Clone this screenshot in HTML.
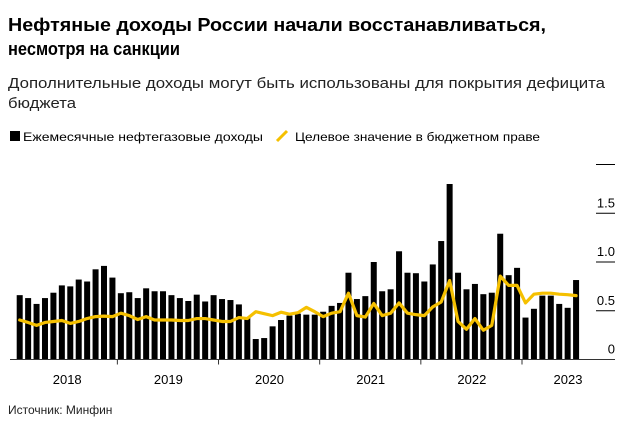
<!DOCTYPE html>
<html><head><meta charset="utf-8"><style>
html,body{margin:0;padding:0;background:#fff;}
svg{display:block;font-family:"Liberation Sans",sans-serif;}
</style></head><body>
<svg id="chart" width="631" height="430" viewBox="0 0 631 430" xmlns="http://www.w3.org/2000/svg">
<text x="8" y="31" font-size="18" font-weight="bold" textLength="538" lengthAdjust="spacingAndGlyphs">Нефтяные доходы России начали восстанавливаться,</text>
<text x="8" y="55" font-size="18" font-weight="bold" textLength="172" lengthAdjust="spacingAndGlyphs">несмотря на санкции</text>
<text x="8" y="88" font-size="15" fill="#222" textLength="597" lengthAdjust="spacingAndGlyphs">Дополнительные доходы могут быть использованы для покрытия дефицита</text>
<text x="8" y="108" font-size="15" fill="#222" textLength="68" lengthAdjust="spacingAndGlyphs">бюджета</text>
<g>
<rect x="10" y="131" width="10" height="10" fill="#000"/>
<text x="23" y="141" font-size="12" textLength="240" lengthAdjust="spacingAndGlyphs">Ежемесячные нефтегазовые доходы</text>
<line x1="277" y1="141" x2="287" y2="131" stroke="#f5c000" stroke-width="3"/>
<text x="295" y="141" font-size="12" textLength="245" lengthAdjust="spacingAndGlyphs">Целевое значение в бюджетном праве</text>
</g>
<g id="grid"></g><g id="bars"></g><g id="line"></g><g id="axis"></g>
<text x="8" y="414" font-size="12" fill="#222">Источник: Минфин</text>
</svg>
<script>
const revenue=[0.66,0.63,0.57,0.63,0.685,0.76,0.75,0.82,0.80,0.925,0.96,0.84,
0.68,0.69,0.63,0.73,0.70,0.70,0.66,0.63,0.60,0.665,0.595,0.66,
0.62,0.61,0.565,0.435,0.21,0.22,0.34,0.405,0.45,0.47,0.46,0.46,
0.49,0.55,0.58,0.89,0.62,0.65,1.0,0.70,0.72,1.11,0.89,0.885,
0.80,0.975,1.215,1.80,0.89,0.72,0.775,0.67,0.685,1.29,0.865,0.94,
0.43,0.52,0.655,0.655,0.57,0.53,0.815];
const target=[0.405,0.38,0.35,0.38,0.39,0.40,0.37,0.39,0.42,0.44,0.445,0.44,
0.475,0.45,0.41,0.44,0.405,0.405,0.405,0.40,0.40,0.42,0.42,0.405,
0.39,0.39,0.43,0.42,0.49,0.47,0.45,0.485,0.465,0.48,0.535,0.49,
0.44,0.475,0.49,0.68,0.45,0.435,0.575,0.45,0.475,0.58,0.475,0.46,
0.45,0.54,0.59,0.81,0.39,0.31,0.42,0.30,0.35,0.855,0.76,0.76,
0.58,0.67,0.68,0.68,0.67,0.665,0.655];
const yTicks=[0,0.5,1.0,1.5,2.0];
const yTickLabels=["0","0.5","1.0","1.5",""];
const years=["2018","2019","2020","2021","2022","2023"];
const NS="http://www.w3.org/2000/svg";
const x0=19.7,step=8.43,y0=359.5,k=97.5;
const xs=i=>x0+i*step, ys=v=>y0-v*k;
function mk(t,a,p){const e=document.createElementNS(NS,t);for(const n in a)e.setAttribute(n,a[n]);document.getElementById(p).appendChild(e);return e;}
yTicks.forEach((v,i)=>{
 const g=mk('line',{x1:596,x2:615,y1:ys(v),y2:ys(v),stroke:'#000','stroke-width':1},'grid');
 
 
 if(yTickLabels[i]){const t=mk('text',{x:615,y:ys(v)-6,'font-size':13,'text-anchor':'end'},'grid');t.textContent=yTickLabels[i];
 
 }
});
revenue.forEach((v,i)=>{
 const r=mk('rect',{x:xs(i)-3,y:ys(v),width:6,height:y0-ys(v),fill:'#000'},'bars');
 
 
});
const pl=mk('polyline',{points:target.map((v,i)=>xs(i)+','+ys(v)).join(' '),fill:'none',stroke:'#f5c000','stroke-width':3.2,'stroke-linejoin':'round','stroke-linecap':'round'},'line');


const ax=mk('line',{x1:10,x2:615,y1:y0,y2:y0,stroke:'#333','stroke-width':1},'axis');


years.forEach((y,i)=>{
 const tx=xs(i*12)-3.5;
 if(i>0){const tk=mk('line',{x1:tx,x2:tx,y1:y0,y2:y0+5,stroke:'#333'},'axis');
 
 }
 const cx=i<5?tx+51:tx+46;
 const t=mk('text',{x:cx,y:384,'font-size':13,'text-anchor':'middle'},'axis');t.textContent=y;
 
 
});
</script>
</body></html>
